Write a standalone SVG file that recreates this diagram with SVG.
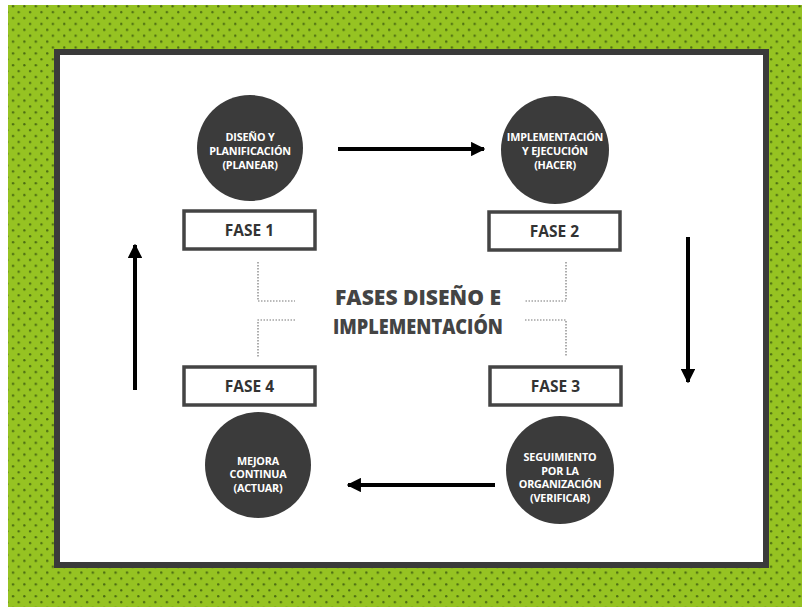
<svg xmlns="http://www.w3.org/2000/svg" width="802" height="607" viewBox="0 0 802 607">
<defs>
<pattern id="dots" x="8" y="5" width="11.4" height="11.8" patternUnits="userSpaceOnUse">
<rect width="11.4" height="11.8" fill="#96c322"/>
<circle cx="5.0" cy="1.2" r="1.2" fill="#4a6a12"/>
<circle cx="10.7" cy="7.1" r="1.2" fill="#4a6a12"/>
<circle cx="-0.7" cy="7.1" r="1.2" fill="#4a6a12"/>
</pattern>
<marker id="ah" viewBox="0 0 10 10" refX="9" refY="5" markerWidth="3.6" markerHeight="3.6" orient="auto" markerUnits="strokeWidth">
<path d="M0,0 L10,5 L0,10 Z" fill="#000"/>
</marker>
<style>
.circ{fill:#3b3b3b;}
.ct{font-family:"Open Sans","Liberation Sans",sans-serif;font-weight:700;font-size:10.8px;fill:#ffffff;text-anchor:middle;letter-spacing:-0.2px;}
.box{fill:#ffffff;stroke:#444444;stroke-width:3.5;}
.bt{font-family:"Open Sans","Liberation Sans",sans-serif;font-weight:700;font-size:15.5px;fill:#333333;text-anchor:middle;}
.arr{stroke:#000;stroke-width:4;fill:none;marker-end:url(#ah);}
.dot{stroke:#777777;stroke-width:1.2;fill:none;stroke-dasharray:1.5 1.5;}
.title{font-family:"Open Sans","Liberation Sans",sans-serif;font-weight:800;font-size:21px;fill:#444444;text-anchor:middle;}
</style>
</defs>
<rect x="0" y="0" width="802" height="607" fill="#ffffff"/>
<rect x="8" y="5" width="794" height="602" fill="url(#dots)"/>
<rect id="frame" x="57" y="52" width="709" height="513" fill="#ffffff" stroke="#3a3a3a" stroke-width="6"/>

<g id="connectors">
<line class="arr" x1="338" y1="149" x2="484" y2="149"/>
<line class="arr" x1="688" y1="237" x2="688" y2="382"/>
<line class="arr" x1="495" y1="485" x2="348" y2="485"/>
<line class="arr" x1="135" y1="390" x2="135" y2="245"/>
<path class="dot" d="M258,262 V301 H295"/>
<path class="dot" d="M295,320 H258 V357"/>
<path class="dot" d="M566,262 V301 H525"/>
<path class="dot" d="M525,320 H566 V357"/>
</g>

<g id="title">
<text class="title" x="418" y="305" textLength="166" lengthAdjust="spacingAndGlyphs">FASES DISEÑO E</text>
<text class="title" x="418" y="334" textLength="170" lengthAdjust="spacingAndGlyphs">IMPLEMENTACIÓN</text>
</g>

<g id="fase1">
<circle class="circ" cx="250" cy="148" r="53"/>
<text class="ct" x="250" y="141">DISEÑO Y</text>
<text class="ct" x="250" y="155">PLANIFICACIÓN</text>
<text class="ct" x="250" y="169">(PLANEAR)</text>
<rect class="box" x="184" y="211" width="131" height="38"/>
<text class="bt" x="249.5" y="235.5">FASE 1</text>
</g>

<g id="fase2">
<circle class="circ" cx="555" cy="150" r="54"/>
<text class="ct" x="555" y="141">IMPLEMENTACIÓN</text>
<text class="ct" x="555" y="155">Y EJECUCIÓN</text>
<text class="ct" x="555" y="169">(HACER)</text>
<rect class="box" x="489" y="212" width="131" height="38"/>
<text class="bt" x="554.5" y="236.5">FASE 2</text>
</g>

<g id="fase3">
<rect class="box" x="490" y="367" width="131" height="38"/>
<text class="bt" x="555.5" y="391.5">FASE 3</text>
<circle class="circ" cx="560" cy="470" r="54"/>
<text class="ct" x="560" y="461">SEGUIMIENTO</text>
<text class="ct" x="560" y="474.5">POR LA</text>
<text class="ct" x="560" y="488">ORGANIZACIÓN</text>
<text class="ct" x="560" y="501.5">(VERIFICAR)</text>
</g>

<g id="fase4">
<rect class="box" x="184" y="367" width="131" height="38"/>
<text class="bt" x="249.5" y="391.5">FASE 4</text>
<circle class="circ" cx="258" cy="465" r="53"/>
<text class="ct" x="258" y="464.5">MEJORA</text>
<text class="ct" x="258" y="478">CONTINUA</text>
<text class="ct" x="258" y="491.5">(ACTUAR)</text>
</g>
</svg>
